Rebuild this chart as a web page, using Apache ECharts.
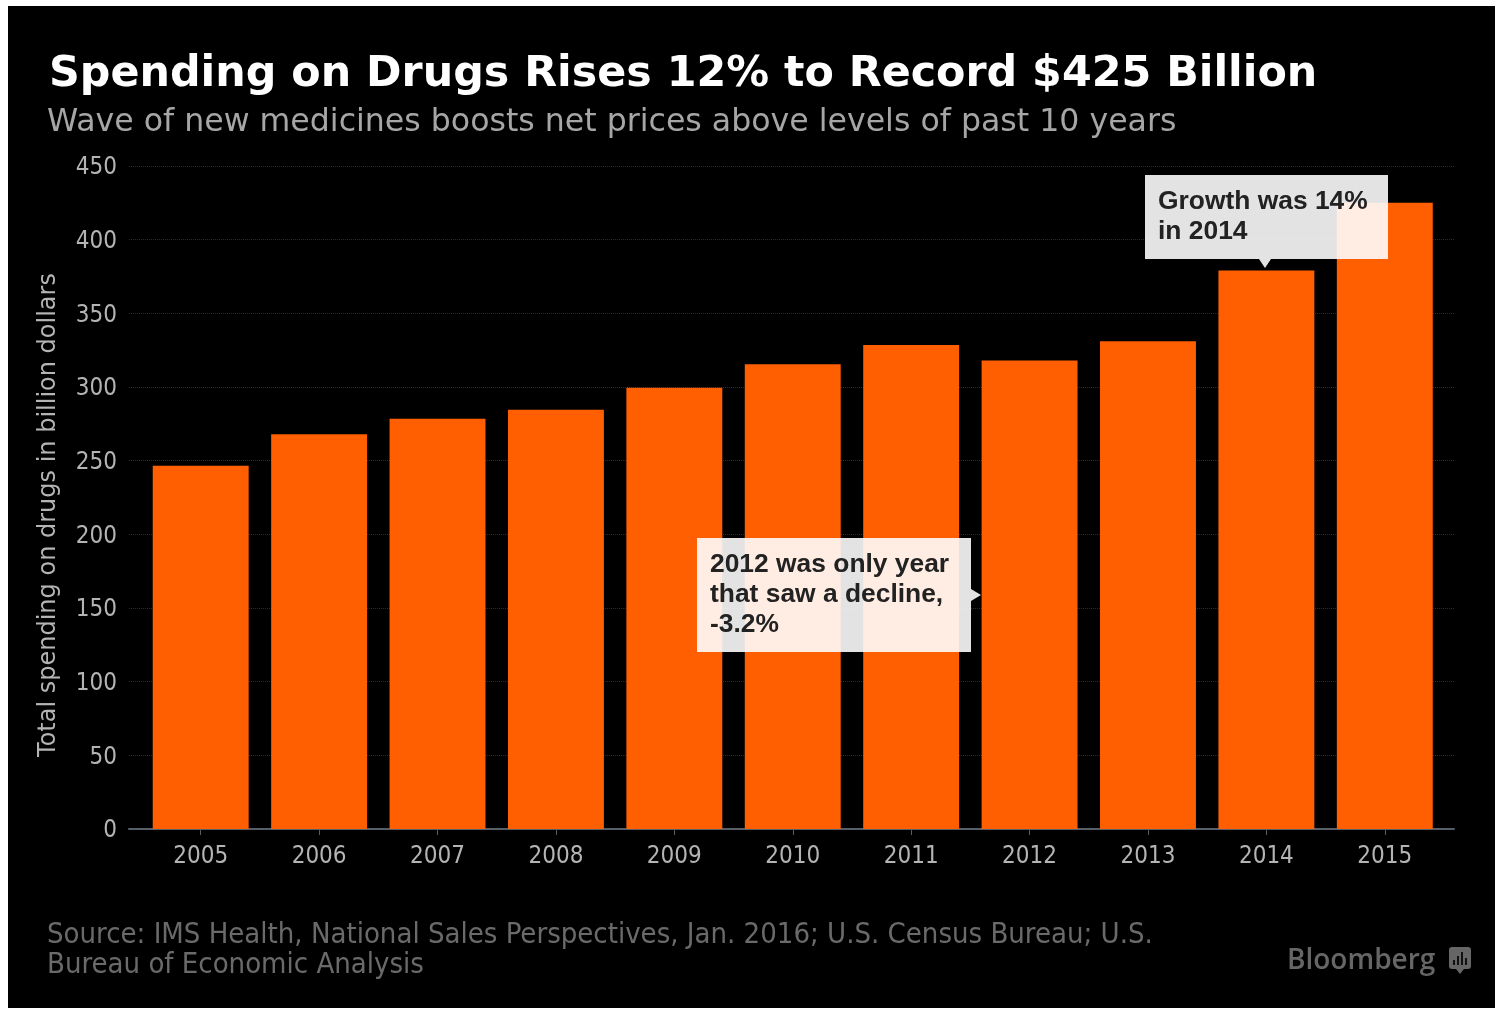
<!DOCTYPE html>
<html>
<head>
<meta charset="utf-8">
<title>Spending on Drugs</title>
<script src="https://cdn.jsdelivr.net/npm/echarts@6/dist/echarts.min.js"></script>
<style>
  html, body { margin: 0; padding: 0; background: #fff; }
  #chart { width: 1495px; height: 1010px; }
</style>
</head>
<body>
<div id="chart"></div>
<script>
// Total US spending on drugs, billion dollars
const years = ['2005','2006','2007','2008','2009','2010','2011','2012','2013','2014','2015'];
const spending = [246.5, 268, 278.5, 284.5, 299.5, 315.5, 328.5, 318, 331, 379, 425];
const yTicks = { min: 0, max: 450, interval: 50 };

const titleText = 'Spending on Drugs Rises 12% to Record $425 Billion';
const subtitleText = 'Wave of new medicines boosts net prices above levels of past 10 years';
const yAxisTitle = 'Total spending on drugs in billion dollars';
const sourceText = 'Source: IMS Health, National Sales Perspectives, Jan. 2016; U.S. Census Bureau; U.S.\nBureau of Economic Analysis';
const note2014 = 'Growth was 14%\nin 2014';
const note2012 = '2012 was only year\nthat saw a decline,\n-3.2%';

const ORANGE = '#ff5f00';
const NOTE_FILL = 'rgba(255,255,255,0.89)';
const LABEL_FONT = '"DejaVu Sans Condensed", "DejaVu Sans", sans-serif';

const chart = echarts.init(document.getElementById('chart'));

// Callout box with a small pointer; the text sits inside with a fixed inset.
function callout(box, pointer, text, textX, textY) {
  return [
    { type: 'rect', z: 50, shape: box, style: { fill: NOTE_FILL } },
    { type: 'polygon', z: 50, shape: { points: pointer }, style: { fill: NOTE_FILL } },
    { type: 'text', z: 51, x: textX, y: textY, style: {
        text, fill: '#222', font: '600 26.4px "Liberation Sans", Arial, sans-serif', lineHeight: 30,
        textVerticalAlign: 'top' } }
  ];
}

chart.setOption({
  backgroundColor: '#fff',
  animation: false,
  title: [
    { text: titleText, left: 44, top: 48,
      textStyle: { color: '#fff', fontFamily: 'DejaVu Sans', fontWeight: 'bold', fontSize: 42.8 } },
    { text: subtitleText, left: 42, top: 102,
      textStyle: { color: '#a6a6a6', fontFamily: 'DejaVu Sans', fontWeight: 'normal', fontSize: 31.6 } },
    { text: sourceText, left: 42, top: 915,
      textStyle: { color: '#6a6a6a', fontFamily: LABEL_FONT, fontWeight: 'normal', fontSize: 29, lineHeight: 30 } },
    { text: 'Bloomberg', left: 1282, top: 942,
      textStyle: { color: '#666', fontFamily: 'Open Sans', fontWeight: 600, fontSize: 28 } }
  ],
  // Outer grid carries the value scale and baseline; inner grid holds the bars.
  grid: [
    { left: 129, right: 41, top: 166, bottom: 181 },
    { left: 141.5, right: 51, top: 166, bottom: 181 }
  ],
  xAxis: [
    { type: 'category', gridIndex: 0, data: [''], axisTick: { show: false }, axisLabel: { show: false },
      axisLine: { lineStyle: { color: '#565f68', width: 2 } } },
    { type: 'category', gridIndex: 1, data: years, boundaryGap: true,
      axisLine: { show: true, lineStyle: { color: 'rgba(0,0,0,0)' } },
      axisTick: { show: true, alignWithLabel: true, length: 6, lineStyle: { color: '#565f68', width: 1 } },
      axisLabel: { color: '#b4b4b4', fontFamily: LABEL_FONT, fontSize: 24, margin: 16 } }
  ],
  yAxis: [
    { type: 'value', gridIndex: 0, ...yTicks,
      axisLine: { show: false }, axisTick: { show: false },
      axisLabel: { margin: 12, formatter: '{n|{value}}',
        rich: { n: { color: '#b4b4b4', fontFamily: LABEL_FONT, fontSize: 24, padding: [4, 0, 0, 0] } } },
      splitLine: { lineStyle: { color: '#2c2c2c', type: 'dotted', width: 1 } } },
    { type: 'value', gridIndex: 1, ...yTicks, show: false, splitLine: { show: false } }
  ],
  series: [{
    type: 'bar', xAxisIndex: 1, yAxisIndex: 1, data: spending,
    barCategoryGap: '19%', itemStyle: { color: ORANGE }, z: 5
  }],
  graphic: [
    { type: 'rect', z: -10, silent: true, shape: { x: 8, y: 6, width: 1487, height: 1002 }, style: { fill: '#000' } },
    { type: 'text', z: 10, x: 49, y: 515, rotation: Math.PI / 2, style: {
        text: yAxisTitle, fill: '#b4b4b4', font: '24px "DejaVu Sans", sans-serif', align: 'center', verticalAlign: 'middle' } },
    ...callout({ x: 1145, y: 175, width: 243, height: 84 }, [[1259, 259], [1271, 259], [1265, 268]], note2014, 1158, 187),
    ...callout({ x: 697, y: 538, width: 274, height: 114 }, [[971, 589], [971, 601], [981, 595]], note2012, 710, 550),
    // Bloomberg mark: rounded speech bubble with small bars
    { type: 'rect', z: 10, shape: { x: 1449, y: 947, width: 22, height: 22, r: 3 }, style: { fill: '#666' } },
    { type: 'polygon', z: 10, shape: { points: [[1456, 969], [1464, 969], [1460, 974]] }, style: { fill: '#666' } },
    { type: 'rect', z: 11, shape: { x: 1453, y: 960, width: 2, height: 5 }, style: { fill: '#111' } },
    { type: 'rect', z: 11, shape: { x: 1457, y: 956, width: 2, height: 9 }, style: { fill: '#111' } },
    { type: 'rect', z: 11, shape: { x: 1461, y: 952, width: 2, height: 13 }, style: { fill: '#111' } },
    { type: 'rect', z: 11, shape: { x: 1465, y: 958, width: 2, height: 7 }, style: { fill: '#111' } }
  ]
});
</script>
</body>
</html>
